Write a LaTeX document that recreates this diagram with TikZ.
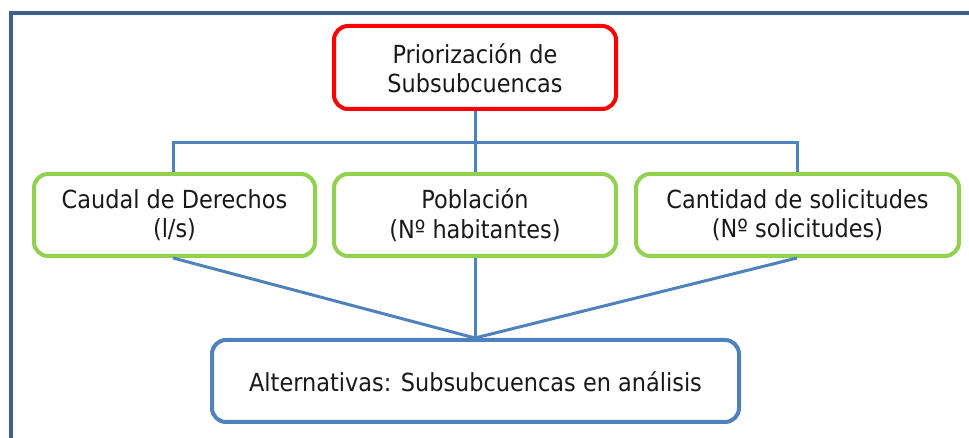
\documentclass[tikz,border=0pt]{standalone}
\usepackage{fontspec}
\setmainfont[FakeStretch=0.9]{DejaVu Sans}
\definecolor{frameblue}{HTML}{3E5F8D}
\definecolor{lineblue}{HTML}{4F81BD}
\definecolor{boxgreen}{HTML}{92D050}
\begin{document}
\begin{tikzpicture}[x=1bp,y=-1bp,
  txt/.style={font=\fontsize{25}{29.5}\selectfont, align=center, text=black!90, inner sep=0pt},
  redbox/.style={draw=red, line width=4bp, rounded corners=14bp},
  greenbox/.style={draw=boxgreen, line width=4bp, rounded corners=14bp},
  bluebox/.style={draw=lineblue, line width=4bp, rounded corners=14bp},
  conn/.style={draw=lineblue, line width=3bp}]
\useasboundingbox (0,0) rectangle (969,438);
% frame (top and left visible)
\draw[frameblue, line width=4bp] (11,440) -- (11,13) -- (975,13);
% boxes
\draw[redbox] (334,26) rectangle (616,109);
\node[txt] (top) at (475,68) {Priorización de\\Subsubcuencas};
\draw[greenbox] (34,174) rectangle (315,256);
\node[txt] (c1) at (174.5,215) {Caudal de Derechos\\(l/s)};
\draw[greenbox] (334,174) rectangle (616,256);
\node[txt] (c2) at (475,215) {Población\\(Nº habitantes)};
\draw[greenbox] (636,174) rectangle (959,256);
\node[txt] (c3) at (797.5,215) {Cantidad de solicitudes\\(Nº solicitudes)};
\draw[bluebox] (212,340) rectangle (739,422);
\node[txt] (alt) at (475.5,382) {Alternativas: Subsubcuencas en análisis};
% connector coordinates
\coordinate (topb) at (475,111);
\coordinate (hub) at (475,143);
\coordinate (l1) at (173,143);
\coordinate (r1) at (797,143);
\coordinate (c1t) at (173,172);
\coordinate (c2t) at (475,172);
\coordinate (c3t) at (797,172);
\coordinate (c1b) at (173,258);
\coordinate (c2b) at (475,258);
\coordinate (c3b) at (797,258);
\coordinate (altt) at (475,338);
\draw[conn] (topb) -- (c2t);
\draw[conn] (c1t) -- (l1) -- (r1) -- (c3t);
\draw[conn] (c1b) -- (altt);
\draw[conn] (c2b) -- (altt);
\draw[conn] (c3b) -- (altt);
\end{tikzpicture}
\end{document}
